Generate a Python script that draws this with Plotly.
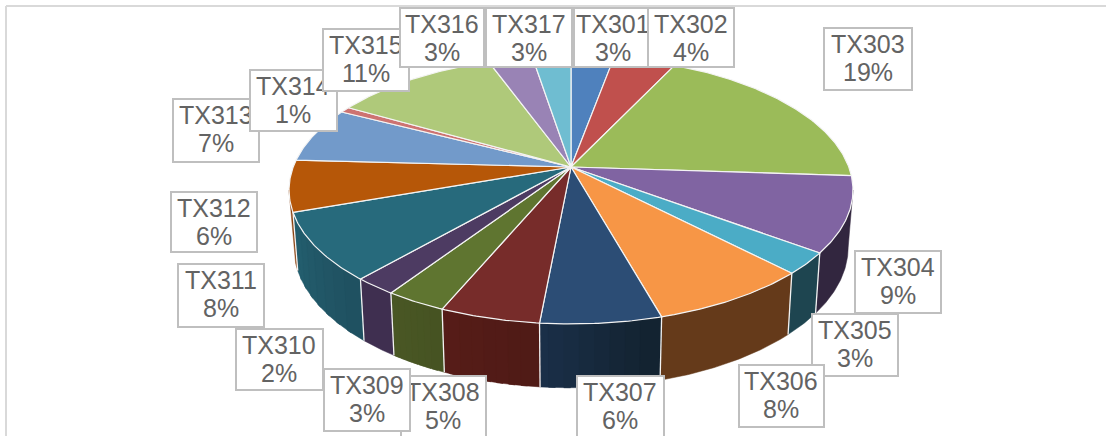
import math
import plotly.graph_objects as go

# ---- data ----
categories = ["TX301","TX302","TX303","TX304","TX305","TX306","TX307","TX308","TX309",
              "TX310","TX311","TX312","TX313","TX314","TX315","TX316","TX317"]
values = [2.9,4.2,19.0,9.1,2.6,7.9,5.9,4.9,3.0,2.1,8.2,6.2,6.7,0.7,11.2,3.0,2.6]

# ---- styles ----
top_colors = ["#4F81BD","#C0504D","#9BBB59","#8064A2","#4BACC6","#F79646","#2C4D75","#772C2A",
              "#5F7530","#4D3B62","#276A7C","#B65708","#729ACA","#CD7371","#AFC97A","#9983B5","#6FBDD1"]
side_colors = {3:("#32263F","#32263F"),4:("#1E4550","#1E4550"),5:("#653A1A","#653A1A"),
               6:("#13222F","#1A304A"),7:("#4F1B16","#571C18"),8:("#465322","#4A5825"),
               9:("#3F2F50","#3F2F50"),10:("#1F5060","#246070"),11:("#8A4210","#8A4210")}
# label boxes: left, right, top, bottom (pixels of the 1106x436 canvas)
boxes = [(573,653,7,68),(647,735,7,68),(823,913,27,91),(854,942,250,314),(811,899,313,377),
         (738,825,364,428),(576,665,375,440),(400,487,375,440),(323,411,368,432),(235,324,328,391),
         (177,265,263,328),(170,258,191,253),(172,260,98,163),(249,338,69,132),(322,410,28,92),
         (399,485,7,68),(485,573,7,68)]

W, H = 1106, 436
CX, CY, RX, RY, K = 571, 167, 277.8, 130, 0.1716   # projection of the pie disc
TEXT = dict(family="Liberation Sans", size=25, color="#636363")

def rim(theta):
    u, v = math.sin(theta), math.cos(theta)
    w = 1 + K * v
    return CX + RX * u / w, CY - RY * v / w

def low(p):
    return CX + 0.983 * (p[0] - CX), CY + 1.05 * (p[1] - CY) + 56

def arc(a, b, step=0.01):
    n = max(2, int((b - a) / step))
    return [rim(a + (b - a) * i / n) for i in range(n + 1)]

def mix(c1, c2, t):
    a = [int(c1[i:i+2], 16) for i in (1, 3, 5)]
    b = [int(c2[i:i+2], 16) for i in (1, 3, 5)]
    return "#%02X%02X%02X" % tuple(round(x + (y - x) * t) for x, y in zip(a, b))

total = sum(values)
edges = [0.0]
for val in values:
    edges.append(edges[-1] + 2 * math.pi * val / total)

fig = go.Figure()
VIS_A, VIS_B = math.radians(99.9), math.radians(260.1)

def poly(pts, fill, line, lw):
    fig.add_trace(go.Scatter(x=[p[0] for p in pts] + [pts[0][0]], y=[p[1] for p in pts] + [pts[0][1]],
                             mode="lines", fill="toself", fillcolor=fill,
                             line=dict(color=line, width=lw), hoverinfo="skip", showlegend=False))

# side walls: each strip overlaps the next so no seam shows inside a wall
for i, (c1, c2) in side_colors.items():
    a, b = max(edges[i], VIS_A), min(edges[i + 1], VIS_B)
    strips = 8 if c1 != c2 else 1
    for s in reversed(range(strips)):
        sa = a + (b - a) * s / strips
        sb = b if s == strips - 1 else a + (b - a) * (s + 1) / strips + 0.02
        top = arc(sa, sb)
        col = mix(c1, c2, (s + 0.5) / strips)
        poly(top + [low(p) for p in reversed(top)], col, col, 0.5)

# white seams between the side walls
for i in side_colors:
    t = edges[i]
    if VIS_A < t < VIS_B:
        p = rim(t)
        q = low(p)
        fig.add_trace(go.Scatter(x=[p[0], q[0]], y=[p[1], q[1]], mode="lines",
                                 line=dict(color="#F2F2F2", width=1.3), hoverinfo="skip", showlegend=False))

# top face
for i, col in enumerate(top_colors):
    poly([(CX, CY)] + arc(edges[i], edges[i + 1]), col, "#F4F4F4", 1.2)

ann = []
for i, name in enumerate(categories):
    l, r, t, b = boxes[i]
    xc, yc = (l + r) / 2, (t + b) / 2
    ann.append(dict(x=xc, y=yc, xref="x", yref="y", text=" ", showarrow=False,
                    width=r - l - 4, height=b - t - 4, bgcolor="#FFFFFF",
                    bordercolor="#BFBFBF", borderwidth=2, borderpad=0))
    ann.append(dict(x=xc - 0.5, y=t + 17, xref="x", yref="y", text=name, showarrow=False, font=TEXT))
    ann.append(dict(x=xc - 0.5, y=t + 45, xref="x", yref="y", text="%d%%" % round(100 * values[i] / total),
                    showarrow=False, font=TEXT))

shapes = [dict(type="line", x0=6, y0=6, x1=W, y1=6, line=dict(color="#D9D9D9", width=2), layer="below"),
          dict(type="line", x0=6, y0=6, x1=6, y1=H, line=dict(color="#D9D9D9", width=2), layer="below")]

fig.update_layout(width=W, height=H, margin=dict(l=0, r=0, t=0, b=0), paper_bgcolor="#FFFFFF",
                  plot_bgcolor="#FFFFFF", showlegend=False, annotations=ann, shapes=shapes,
                  xaxis=dict(range=[0, W], visible=False, fixedrange=True),
                  yaxis=dict(range=[H, 0], visible=False, fixedrange=True))
fig.write_html("out.html", config={"displayModeBar": False},
               post_script="document.body.style.margin='0';document.body.style.overflow='hidden';")
